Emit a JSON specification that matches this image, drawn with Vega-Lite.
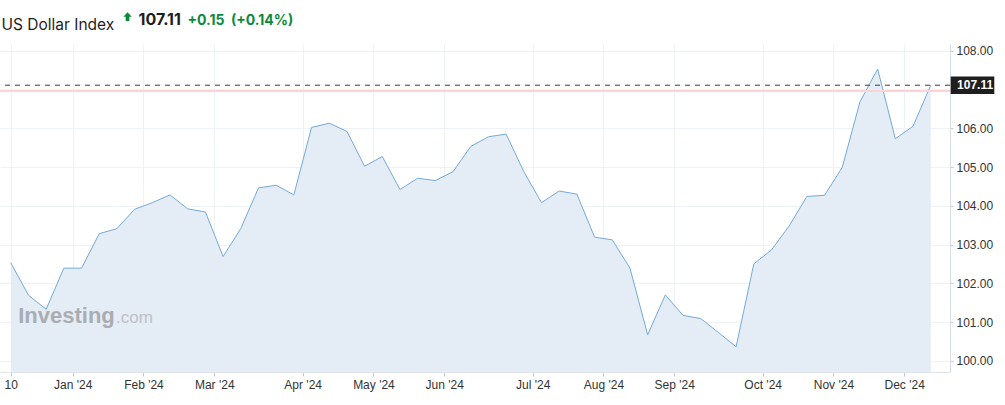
{
  "$schema": "https://vega.github.io/schema/vega-lite/v6.json",
  "width": 950,
  "height": 328,
  "autosize": {"type": "none"},
  "padding": {"left": 0, "top": 44, "right": 55, "bottom": 33},
  "background": "#ffffff",
  "config": {"view": {"stroke": null}},
  "title": {
    "text": "US Dollar Index",
    "anchor": "start",
    "frame": "group",
    "orient": "top",
    "dx": 1.5,
    "offset": -22,
    "font": "Inter",
    "fontSize": 15.5,
    "fontWeight": "normal",
    "color": "#1e1e1e"
  },
  "datasets": {
    "dxy": [
      {"date": "2023-12-10", "i": 0, "close": 102.53},
      {"date": "2023-12-17", "i": 1, "close": 101.69},
      {"date": "2023-12-24", "i": 2, "close": 101.33},
      {"date": "2023-12-31", "i": 3, "close": 102.39},
      {"date": "2024-01-07", "i": 4, "close": 102.39},
      {"date": "2024-01-14", "i": 5, "close": 103.28},
      {"date": "2024-01-21", "i": 6, "close": 103.41},
      {"date": "2024-01-28", "i": 7, "close": 103.91},
      {"date": "2024-02-04", "i": 8, "close": 104.08},
      {"date": "2024-02-11", "i": 9, "close": 104.28},
      {"date": "2024-02-18", "i": 10, "close": 103.92},
      {"date": "2024-02-25", "i": 11, "close": 103.84},
      {"date": "2024-03-03", "i": 12, "close": 102.69},
      {"date": "2024-03-10", "i": 13, "close": 103.41},
      {"date": "2024-03-17", "i": 14, "close": 104.46},
      {"date": "2024-03-24", "i": 15, "close": 104.53},
      {"date": "2024-03-31", "i": 16, "close": 104.28},
      {"date": "2024-04-07", "i": 17, "close": 106.02},
      {"date": "2024-04-14", "i": 18, "close": 106.13},
      {"date": "2024-04-21", "i": 19, "close": 105.92},
      {"date": "2024-04-28", "i": 20, "close": 105.02},
      {"date": "2024-05-05", "i": 21, "close": 105.27},
      {"date": "2024-05-12", "i": 22, "close": 104.42},
      {"date": "2024-05-19", "i": 23, "close": 104.71},
      {"date": "2024-05-26", "i": 24, "close": 104.65},
      {"date": "2024-06-02", "i": 25, "close": 104.88},
      {"date": "2024-06-09", "i": 26, "close": 105.53},
      {"date": "2024-06-16", "i": 27, "close": 105.78},
      {"date": "2024-06-23", "i": 28, "close": 105.85},
      {"date": "2024-06-30", "i": 29, "close": 104.88},
      {"date": "2024-07-07", "i": 30, "close": 104.08},
      {"date": "2024-07-14", "i": 31, "close": 104.38},
      {"date": "2024-07-21", "i": 32, "close": 104.30},
      {"date": "2024-07-28", "i": 33, "close": 103.19},
      {"date": "2024-08-04", "i": 34, "close": 103.12},
      {"date": "2024-08-11", "i": 35, "close": 102.39},
      {"date": "2024-08-18", "i": 36, "close": 100.67},
      {"date": "2024-08-25", "i": 37, "close": 101.70},
      {"date": "2024-09-01", "i": 38, "close": 101.17},
      {"date": "2024-09-08", "i": 39, "close": 101.09},
      {"date": "2024-09-15", "i": 40, "close": 100.73},
      {"date": "2024-09-22", "i": 41, "close": 100.36},
      {"date": "2024-09-29", "i": 42, "close": 102.50},
      {"date": "2024-10-06", "i": 43, "close": 102.86},
      {"date": "2024-10-13", "i": 44, "close": 103.48},
      {"date": "2024-10-20", "i": 45, "close": 104.24},
      {"date": "2024-10-27", "i": 46, "close": 104.27},
      {"date": "2024-11-03", "i": 47, "close": 104.99},
      {"date": "2024-11-10", "i": 48, "close": 106.68},
      {"date": "2024-11-17", "i": 49, "close": 107.53},
      {"date": "2024-11-24", "i": 50, "close": 105.73},
      {"date": "2024-12-01", "i": 51, "close": 106.05},
      {"date": "2024-12-08", "i": 52, "close": 107.11}
    ],
    "quote": [{"last": 107.11, "prev_close": 106.96, "change": 0.15}],
    "brand": [{"name": "Investing", "tld": ".com"}]
  },
  "layer": [
    {
      "data": {"name": "dxy"},
      "mark": {"type": "area", "color": "#e4ecf5", "opacity": 1, "clip": true, "line": {"color": "#74aadb", "strokeWidth": 1}},
      "encoding": {
        "x": {
          "field": "i", "type": "quantitative",
          "scale": {"domain": [-0.61, 53.09], "nice": false, "zero": false},
          "axis": {
            "values": [0, 3.5, 7.5, 11.5, 16.5, 20.5, 24.5, 29.5, 33.5, 37.5, 42.5, 46.5, 50.5],
            "labelExpr": "[\"10\", \"Jan '24\", \"Feb '24\", \"Mar '24\", \"Apr '24\", \"May '24\", \"Jun '24\", \"Jul '24\", \"Aug '24\", \"Sep '24\", \"Oct '24\", \"Nov '24\", \"Dec '24\"][indexof([0, 3.5, 7.5, 11.5, 16.5, 20.5, 24.5, 29.5, 33.5, 37.5, 42.5, 46.5, 50.5], datum.value)]",
            "grid": true, "gridColor": "#eef1f6",
            "domainColor": "#dfe3ea", "tickColor": "#c8ccd2", "tickSize": 4,
            "labelPadding": 3, "labelFont": "Liberation Sans", "labelFontSize": 12, "labelColor": "#333333",
            "labelFlush": false, "labelOverlap": false,
            "title": "107.11", "titleX": 138, "titleY": -348, "titleAlign": "left", "titleBaseline": "alphabetic",
            "titleFont": "Inter", "titleFontSize": 16, "titleFontWeight": "bold", "titleColor": "#1e1e1e"
          }
        },
        "y": {
          "field": "close", "type": "quantitative",
          "scale": {"domain": [99.71, 108.174], "nice": false, "zero": false},
          "axis": {
            "orient": "right",
            "values": [100, 101, 102, 103, 104, 105, 106, 107, 108],
            "labelExpr": "datum.value == 107 ? '' : format(datum.value, '.2f')",
            "grid": true, "gridColor": "#eef1f6",
            "domainColor": "#d6dbe3", "tickColor": "#c8ccd2", "tickSize": 3,
            "labelPadding": 3, "labelFont": "Liberation Sans", "labelFontSize": 12, "labelColor": "#333333",
            "labelAlign": "left", "labelBaseline": "middle",
            "title": "+0.15\u00a0 (+0.14%)", "titleAngle": 0, "titleX": -763, "titleY": -20,
            "titleAlign": "left", "titleBaseline": "alphabetic",
            "titleFont": "Inter", "titleFontSize": 14, "titleFontWeight": "bold", "titleColor": "#0c8a3c"
          }
        }
      }
    },
    {
      "data": {"name": "brand"},
      "mark": {"type": "text", "font": "Liberation Sans", "fontSize": 22, "fontWeight": "bold", "color": "#a3a7ac", "align": "left", "baseline": "alphabetic", "opacity": 0.9},
      "encoding": {
        "x": {"datum": 0.42, "type": "quantitative"},
        "y": {"datum": 100.98, "type": "quantitative"},
        "text": {"field": "name"}
      }
    },
    {
      "data": {"name": "brand"},
      "mark": {"type": "text", "font": "Liberation Sans", "fontSize": 17, "fontWeight": "normal", "color": "#b9bdc2", "align": "left", "baseline": "alphabetic", "opacity": 0.9},
      "encoding": {
        "x": {"datum": 5.95, "type": "quantitative"},
        "y": {"datum": 100.98, "type": "quantitative"},
        "text": {"field": "tld"}
      }
    },
    {
      "data": {"name": "quote"},
      "mark": {"type": "rule", "color": "#fdd3d7", "strokeWidth": 2},
      "encoding": {"y": {"field": "prev_close", "type": "quantitative"}}
    },
    {
      "data": {"name": "quote"},
      "mark": {"type": "rule", "color": "#3c3c3c", "strokeWidth": 1, "strokeDash": [5, 5]},
      "encoding": {"y": {"field": "last", "type": "quantitative"}}
    },
    {
      "data": {"name": "quote"},
      "mark": {"type": "point", "shape": "M0,-0.5H2.52V0.5H0Z", "size": 1197, "filled": true, "color": "#1e1e1e", "opacity": 1, "strokeWidth": 0, "clip": false},
      "encoding": {
        "x": {"datum": 53.13, "type": "quantitative"},
        "y": {"field": "last", "type": "quantitative"}
      }
    },
    {
      "data": {"name": "quote"},
      "mark": {"type": "text", "font": "Liberation Sans", "fontSize": 12, "fontWeight": "bold", "color": "#ffffff", "align": "left", "baseline": "middle", "clip": false},
      "encoding": {
        "x": {"datum": 53.49, "type": "quantitative"},
        "y": {"field": "last", "type": "quantitative"},
        "text": {"field": "last", "type": "quantitative", "format": ".2f"}
      }
    },
    {
      "data": {"name": "quote"},
      "mark": {"type": "point", "shape": "M0,-1L0.9,0H0.4V0.9H-0.4V0H-0.9Z", "size": 85, "filled": true, "color": "#0c8a3c", "opacity": 1, "strokeWidth": 0, "clip": false},
      "encoding": {
        "x": {"datum": 6.6, "type": "quantitative"},
        "y": {"datum": 108.877, "type": "quantitative"}
      }
    }
  ]
}
